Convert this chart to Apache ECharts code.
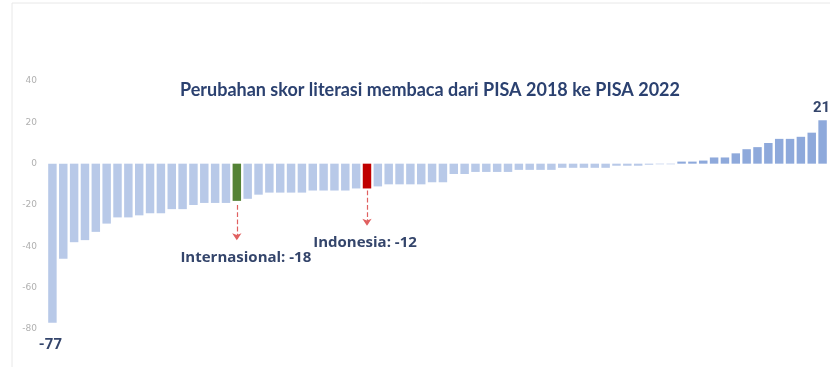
<!DOCTYPE html>
<html><head><meta charset="utf-8">
<script src="https://cdn.jsdelivr.net/npm/echarts@6/dist/echarts.min.js"></script>
<style>html,body{margin:0;padding:0;background:#fff}#c{width:830px;height:367px}</style>
</head><body><div id="c"></div>
<script>
const title = 'Perubahan skor literasi membaca dari PISA 2018 ke PISA 2022';
const values = [-77,-46,-38,-37,-33,-29,-26,-26,-25,-24,-24,-22,-22,-20,-19,-19,-19,-18,-17,-15,
  -14,-14,-14,-14,-13,-13,-13,-13,-12,-12,-11,-10,-10,-10,-10,-9,-9,-5,-5,-4,
  -4,-4,-4,-3,-3,-3,-3,-2,-2,-2,-2,-2,-1,-1,-1,-0.5,-0.3,-0.3,1,1,
  1.5,3,3,5,7,8,10,12,12,13,15,21];
const categories = values.map((v,i)=>'C'+(i+1));
const yTicks = [-80,-60,-40,-20,0,20,40];
const intlIndex = 17, intlLabel = 'Internasional: -18';
const indoIndex = 29, indoLabel = 'Indonesia: -12';
const minIndex = 0, maxIndex = 71;

const NEG='#b8c9e8', POS='#8ea9db', GREEN='#548235', RED='#c00000', TXT='#34456b';
const data = values.map((v,i)=>{
  const d={value:v,itemStyle:{color: i===intlIndex?GREEN:(i===indoIndex?RED:(v>0?POS:NEG))}};
  if(i===minIndex) d.label={show:true,position:'bottom',formatter:String(v),fontSize:15,fontWeight:'bold',color:TXT,offset:[-2,10],fontFamily:'Roboto'};
  if(i===maxIndex) d.label={show:true,position:'top',formatter:String(v),fontSize:15,fontWeight:'bold',color:TXT,offset:[-1,0],fontFamily:'Roboto'};
  return d;
});
const chart = echarts.init(document.getElementById('c'));
chart.setOption({
  backgroundColor:'#fff',
  animation:false,
  title:{text:title,left:175,top:76,textStyle:{fontFamily:'Lato',fontWeight:'bold',fontSize:18,color:'#2b4170'}},
  grid:{left:47,right:2,top:81,bottom:38},
  xAxis:{type:'category',data:categories,axisLine:{show:false},axisTick:{show:false},axisLabel:{show:false}},
  yAxis:{type:'value',min:-80,max:40,interval:20,splitLine:{show:false},
    axisLabel:{color:'#b0b0b0',fontSize:9,margin:10,fontFamily:'DejaVu Sans'}},
  graphic:[{type:'rect',shape:{x:12,y:3,width:830,height:380},style:{fill:'none',stroke:'#e8e8e8',lineWidth:1},silent:true,z:-1}],
  series:[{type:'bar',data:data,barCategoryGap:'22%',
    markLine:{silent:true,symbol:['none','arrow'],symbolSize:[7,7],
      lineStyle:{type:'dashed',color:'#e06060',width:1.2},label:{show:false},
      data:[[{coord:[intlIndex,-20]},{coord:[intlIndex,-37]}],[{coord:[indoIndex,-13]},{coord:[indoIndex,-30]}]]},
    markPoint:{symbol:'circle',symbolSize:0,
      label:{show:true,position:'inside',fontSize:15,fontWeight:'bold',color:TXT,fontFamily:'Open Sans'},
      data:[{coord:[intlIndex,-45],label:{formatter:intlLabel,offset:[9,1]}},
            {coord:[indoIndex,-38.5],label:{formatter:indoLabel,offset:[-2,0]}}]}
  }]
});
</script></body></html>
